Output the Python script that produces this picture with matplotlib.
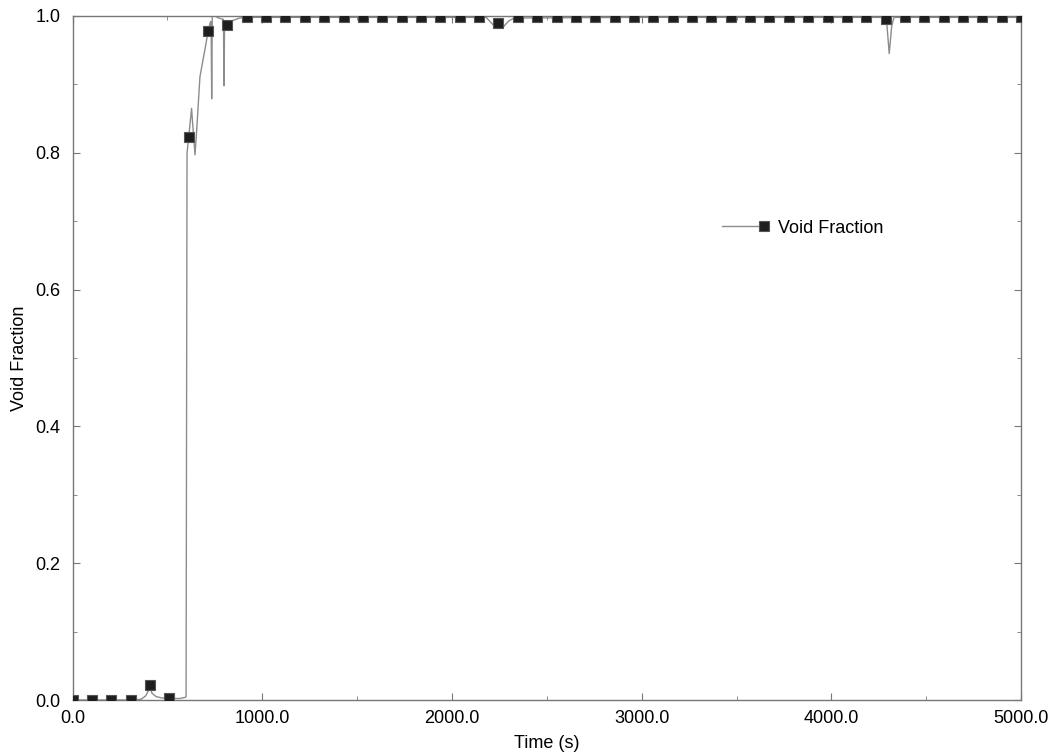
import matplotlib
matplotlib.use("Agg")
import matplotlib.pyplot as plt
from matplotlib.lines import Line2D
from matplotlib.ticker import MultipleLocator, FormatStrFormatter

plt.rcParams['font.family'] = ['Liberation Sans', 'DejaVu Sans']

# continuous void fraction trace (time in s)
trace_t = [0, 102, 204, 306, 360, 385, 400, 408, 418, 440, 470, 510, 560, 595,
           598, 603, 612, 627, 636, 645, 654, 671, 700, 714, 725, 730, 733, 736,
           750, 770, 795, 798, 801, 816, 840, 880, 918, 1500, 2180, 2220, 2245,
           2270, 2300, 2330, 3000, 4280, 4292, 4305, 4318, 4330, 4600, 5000]
trace_v = [0.0, 0.0, 0.0, 0.0, 0.001, 0.006, 0.014, 0.020, 0.010, 0.005, 0.003,
           0.003, 0.002, 0.004, 0.005, 0.800, 0.823, 0.865, 0.830, 0.797, 0.833,
           0.911, 0.955, 0.978, 0.990, 0.992, 0.879, 1.000, 1.000, 0.997, 0.995,
           0.898, 0.990, 0.987, 0.993, 0.997, 0.998, 0.998, 0.998, 0.986, 0.990,
           0.984, 0.993, 0.997, 0.998, 0.998, 0.990, 0.945, 0.985, 0.998, 0.998,
           0.998]

# plotted symbols every 102 s
marker_t = [0, 102, 204, 306, 408, 510, 612, 714, 816, 918,
            1020, 1122, 1224, 1327, 1429, 1531, 1633, 1735, 1837, 1939,
            2041, 2143, 2245, 2347, 2449, 2551, 2653, 2755, 2857, 2959,
            3061, 3163, 3265, 3367, 3469, 3571, 3673, 3776, 3878, 3980,
            4082, 4184, 4286, 4388, 4490, 4592, 4694, 4796, 4898, 5000]
marker_v = [0.0, 0.0, 0.0, 0.0, 0.022, 0.003, 0.823, 0.978, 0.987, 0.998,
            0.998, 0.998, 0.998, 0.998, 0.998, 0.998, 0.998, 0.998, 0.998, 0.998,
            0.998, 0.998, 0.990, 0.998, 0.998, 0.998, 0.998, 0.998, 0.998, 0.998,
            0.998, 0.998, 0.998, 0.998, 0.998, 0.998, 0.998, 0.998, 0.998, 0.998,
            0.998, 0.998, 0.996, 0.998, 0.998, 0.998, 0.998, 0.998, 0.998, 0.998]

line_color = '#8c8c8c'
mark_style = dict(marker='s', markersize=6.5, markerfacecolor='#1e1e1e',
                  markeredgecolor='#555555', markeredgewidth=0.8)


class EndMarkerHandler:
    # legend sample: line with the symbol at its right end
    def legend_artist(self, legend, orig_handle, fontsize, handlebox):
        x0, y0 = handlebox.xdescent, handlebox.ydescent
        w, h = handlebox.width, handlebox.height
        yc = h / 2 - y0
        seg = Line2D([-x0, -x0 + w], [yc, yc], color=line_color, linewidth=1.0)
        sym = Line2D([-x0 + w], [yc], linestyle='none', **mark_style)
        handlebox.add_artist(seg)
        handlebox.add_artist(sym)
        return seg


fig = plt.figure(figsize=(10.56, 7.54), dpi=100)
ax = fig.add_axes([0.0688, 0.0716, 0.8981, 0.9072])

ax.plot(trace_t, trace_v, color=line_color, linewidth=1.0, zorder=2)
ax.plot(marker_t, marker_v, linestyle='none', zorder=3, **mark_style)

ax.set_xlim(0, 5000)
ax.set_ylim(0, 1.0)
ax.xaxis.set_major_locator(MultipleLocator(1000))
ax.xaxis.set_minor_locator(MultipleLocator(500))
ax.yaxis.set_major_locator(MultipleLocator(0.2))
ax.yaxis.set_minor_locator(MultipleLocator(0.1))
ax.xaxis.set_major_formatter(FormatStrFormatter('%.1f'))
ax.yaxis.set_major_formatter(FormatStrFormatter('%.1f'))
ax.tick_params(which='both', direction='in', top=True, right=True,
               labelsize=13, color='#777777')
ax.tick_params(which='major', length=5)
ax.tick_params(which='minor', length=3)
ax.tick_params(axis='x', pad=7)
ax.tick_params(axis='y', pad=9)
for s in ax.spines.values():
    s.set_color('#777777')
    s.set_linewidth(1.0)

ax.set_xlabel('Time (s)', fontsize=13, labelpad=6)
ax.set_ylabel('Void Fraction', fontsize=13, labelpad=5)

handle = Line2D([], [], color=line_color, linewidth=1.0, **mark_style)
ax.legend([handle], ['Void Fraction'], handler_map={handle: EndMarkerHandler()},
          loc='center left', bbox_to_anchor=(0.6676, 0.69), frameon=False,
          fontsize=13, handlelength=2.3, handletextpad=0.8)

fig.savefig('out.png', dpi=100)
